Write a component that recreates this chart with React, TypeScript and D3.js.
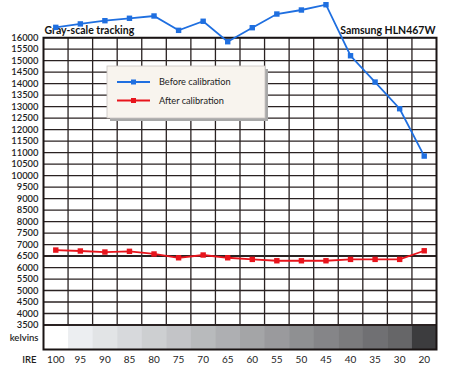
import React from 'react';
import * as d3 from 'd3';

const ireLevels = ['100', '95', '90', '85', '80', '75', '70', '65', '60', '55', '50', '45', '40', '35', '30', '20'];
const beforeCalibration = [16450, 16600, 16740, 16845, 16945, 16320, 16715, 15825, 16435, 17030, 17205, 17435, 15215, 14070, 12910, 10850];
const afterCalibration = [6760, 6720, 6675, 6705, 6590, 6425, 6545, 6425, 6355, 6295, 6295, 6295, 6355, 6355, 6355, 6730];
const kelvinTicks = d3.range(3500, 16001, 500);
const referenceKelvin = 6500;

const W = 450, H = 385;
const margin = { top: 37.7, right: 13.5, bottom: 60, left: 43.5 };
const bandH = 24.5;
const font = 'Lato, "Open Sans", sans-serif';

export default function App() {
  const x = d3.scaleBand().domain(ireLevels).range([margin.left, W - margin.right]);
  const y = d3.scaleLinear().domain([3500, 16000]).range([H - margin.bottom, margin.top]);
  const gray = d3.scaleLinear<string>().domain([100, 95, 30, 20]).range(['#ffffff', '#eceef1', '#666668', '#3c3c3e']);

  const cx = (i: number) => (x(ireLevels[i]) as number) + x.bandwidth() / 2;
  const line = d3.line<number>().x((_, i) => cx(i)).y(d => y(d));

  const plotBottom = y(3500);
  const bandBottom = plotBottom + bandH;
  const left = margin.left, right = W - margin.right;

  const series = [
    { name: 'Before calibration', values: beforeCalibration, color: '#1f6fe0' },
    { name: 'After calibration', values: afterCalibration, color: '#e8141c' },
  ];

  return (
    <svg width={W} height={H} style={{ position: 'absolute', left: 0, top: 0, background: '#fff' }} fontFamily={font}>
      {/* kelvins band */}
      {ireLevels.map(d => (
        <rect key={'b' + d} x={x(d)} y={plotBottom} width={x.bandwidth() + 0.5} height={bandH} fill={gray(+d)} />
      ))}
      {/* horizontal grid */}
      {kelvinTicks.map(t => (
        <line key={'h' + t} x1={left} x2={right} y1={y(t)} y2={y(t)}
          stroke="#2a2222" strokeWidth={t === referenceKelvin || t === 3500 ? 2 : 1.3} />
      ))}
      {/* vertical grid */}
      {ireLevels.slice(1).map(d => (
        <line key={'v' + d} x1={x(d)} x2={x(d)} y1={margin.top} y2={plotBottom} stroke="#2a2222" strokeWidth={1.3} />
      ))}
      {/* frame */}
      <path d={`M${left},${margin.top}H${right}V${bandBottom}H${left}Z`} fill="none" stroke="#1a1414" strokeWidth={2} />

      {/* y labels */}
      {kelvinTicks.map(t => (
        <text key={'yl' + t} x={left - 5} y={y(t)} dy="0.35em" textAnchor="end" fontSize={9.4} fontWeight={600} fill="#1e1e1e">{t}</text>
      ))}
      <text x={left - 5} y={plotBottom + bandH / 2} dy="0.35em" textAnchor="end" fontSize={9.5} fontWeight={600} fill="#1e1e1e">kelvins</text>

      {/* x labels */}
      <text x={left - 7} y={bandBottom + 13} textAnchor="end" fontSize={9.5} fontWeight={600} fill="#1e1e1e">IRE</text>
      {ireLevels.map((d, i) => (
        <text key={'xl' + d} x={cx(i)} y={bandBottom + 13} textAnchor="middle" fontSize={10} fill="#1e1e1e">{d}</text>
      ))}

      {/* titles */}
      <text x={left + 1} y={margin.top - 4} fontSize={10.5} fontWeight="bold" fill="#111">Gray-scale tracking</text>
      <text x={right - 1} y={margin.top - 4} textAnchor="end" fontSize={10.5} fontWeight="bold" fill="#111">Samsung HLN467W</text>

      {/* legend */}
      <g transform="translate(107,66)">
        <rect x={3} y={3} width={158} height={52} fill="#a8a8a8" />
        <rect x={0} y={0} width={158} height={52} fill="#f8f4ee" stroke="#c8c4c0" strokeWidth={0.8} />
        {series.map((s, i) => (
          <g key={'lg' + i} transform={`translate(0,${16 + i * 18.5})`}>
            <line x1={10} x2={43} y1={0} y2={0} stroke={s.color} strokeWidth={2} />
            <rect x={24} y={-2.5} width={5} height={5} fill={s.color} />
            <text x={52} y={0} dy="0.35em" fontSize={9.2} fill="#222">{s.name}</text>
          </g>
        ))}
      </g>

      {/* series */}
      {series.map((s, k) => (
        <g key={'s' + k}>
          <path d={line(s.values) || ''} fill="none" stroke={s.color} strokeWidth={1.8} />
          {s.values.map((v, i) => (
            <rect key={i} x={cx(i) - 2.7} y={y(v) - 2.7} width={5.4} height={5.4} fill={s.color} />
          ))}
        </g>
      ))}
    </svg>
  );
}
